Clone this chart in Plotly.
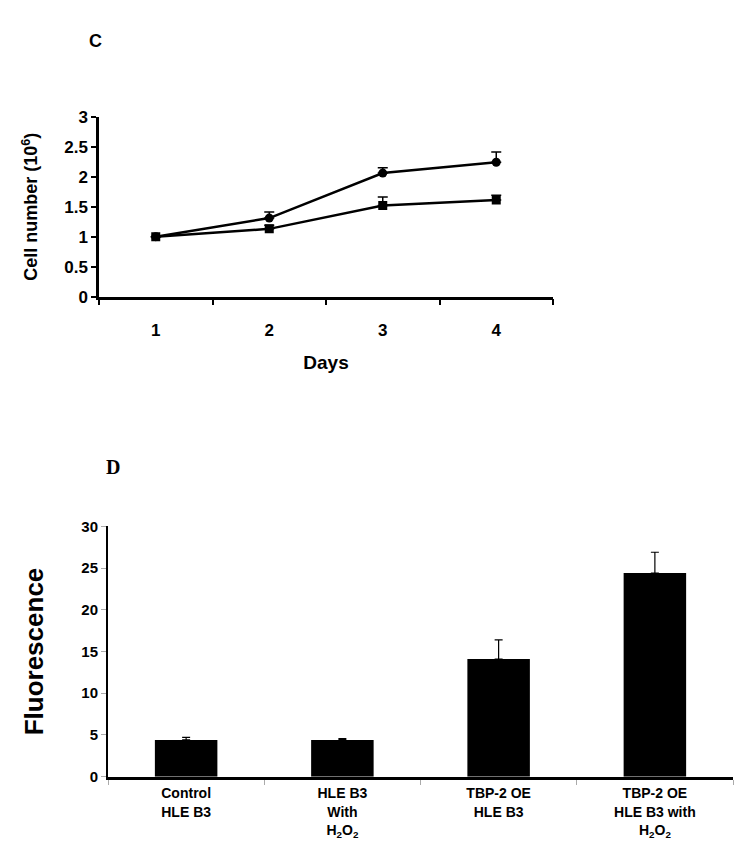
import plotly.graph_objects as go

days = ["1", "2", "3", "4"]
circle_vals = [1.0, 1.31, 2.06, 2.24]
circle_err = [0.0, 0.10, 0.09, 0.17]
square_vals = [1.0, 1.13, 1.52, 1.61]
square_err = [0.0, 0.06, 0.14, 0.08]
cell_ticks = [0, 0.5, 1, 1.5, 2, 2.5, 3]
cell_tick_text = ["0", "0.5", "1", "1.5", "2", "2.5", "3"]

groups = ["Control<br>HLE B3", "HLE B3<br>With<br>H<sub>2</sub>O<sub>2</sub>",
          "TBP-2 OE<br>HLE B3", "TBP-2 OE<br>HLE B3 with<br>H<sub>2</sub>O<sub>2</sub>"]
fluor_vals = [4.4, 4.4, 14.1, 24.4]
fluor_err = [0.3, 0.15, 2.3, 2.5]
fluor_ticks = [0, 5, 10, 15, 20, 25, 30]

FONT = "Liberation Sans, Arial"
B = lambda s: "<b>" + s + "</b>"

# page body has an 8px margin; size the figure so it fits the window exactly
OFF = 8
W, H = 750 - 2 * OFF, 868 - 2 * OFF
px = lambda s: (s - OFF) / W          # screen x -> paper fraction
py = lambda s: 1 - (s - OFF) / H      # screen y -> paper fraction

fig = go.Figure()

for vals, errs, sym in [(circle_vals, circle_err, "circle"), (square_vals, square_err, "square")]:
    fig.add_trace(go.Scatter(
        x=days, y=vals, mode="lines+markers",
        line=dict(color="black", width=2.5),
        marker=dict(symbol=sym, size=9, color="black"),
        error_y=dict(type="data", array=errs, arrayminus=[0]*len(errs), symmetric=False,
                     color="black", thickness=1.5, width=5),
        xaxis="x", yaxis="y", showlegend=False))

fig.add_trace(go.Bar(
    x=groups, y=fluor_vals, marker=dict(color="black", line=dict(width=0)),
    width=0.40,
    error_y=dict(type="data", array=fluor_err, arrayminus=[0]*len(fluor_err), symmetric=False,
                 color="black", thickness=1.2, width=4),
    xaxis="x2", yaxis="y2", showlegend=False))

fig.update_layout(
    width=W, height=H,
    margin=dict(l=0, r=0, t=0, b=0),
    paper_bgcolor="white", plot_bgcolor="white",
    font=dict(family=FONT, color="black"),
    xaxis=dict(domain=[px(99), px(553)], anchor="y", type="category",
               range=[-0.5, 3.5], tickson="boundaries",
               tickvals=days, ticktext=[B(d) for d in days],
               showline=True, linecolor="black", linewidth=2.5,
               ticks="outside", ticklen=6, tickwidth=2, tickcolor="black",
               ticklabelstandoff=16,
               showgrid=False, zeroline=False,
               tickfont=dict(size=17, family=FONT),
               title=dict(text="<b>Days</b>", font=dict(size=19, family=FONT), standoff=17)),
    yaxis=dict(domain=[py(294), py(110)], anchor="x",
               range=[0, 3], tickvals=cell_ticks,
               ticktext=[B(t) for t in cell_tick_text],
               showline=True, linecolor="black", linewidth=2.5,
               ticks="outside", ticklen=5, tickwidth=2, tickcolor="black",
               showgrid=False, zeroline=False,
               tickfont=dict(size=17, family=FONT),
               title=dict(text="<b>Cell number (10<sup>6</sup>)</b>",
                          font=dict(size=18, family=FONT), standoff=22)),
    xaxis2=dict(domain=[px(108), px(733)], anchor="y2", type="category",
                range=[-0.5, 3.5], tickson="boundaries",
                tickvals=groups, ticktext=[B(g) for g in groups],
                showline=True, linecolor="black", linewidth=3,
                ticks="outside", ticklen=5, tickwidth=1, tickcolor="#aaaaaa",
                ticklabelstandoff=2,
                showgrid=False, zeroline=False,
                tickfont=dict(size=14, family=FONT)),
    yaxis2=dict(domain=[py(785), py(529)], anchor="x2",
                range=[0, 30], tickvals=fluor_ticks,
                ticktext=[B(str(t)) for t in fluor_ticks],
                showline=True, linecolor="black", linewidth=2,
                ticks="outside", ticklen=5, tickwidth=1, tickcolor="#aaaaaa",
                showgrid=False, zeroline=False,
                tickfont=dict(size=15, family=FONT),
                title=dict(text="<b>Fluorescence</b>",
                           font=dict(size=26, family=FONT), standoff=30)),
    annotations=[
        dict(text="<b>C</b>", x=px(95), y=py(33), xref="paper", yref="paper",
             xanchor="center", yanchor="middle",
             showarrow=False, font=dict(size=18, family=FONT)),
        dict(text="<b>D</b>", x=px(113), y=py(468), xref="paper", yref="paper",
             xanchor="center", yanchor="middle",
             showarrow=False, font=dict(size=20, family="Liberation Serif, Times New Roman")),
    ],
)

fig.write_html("out.html")
